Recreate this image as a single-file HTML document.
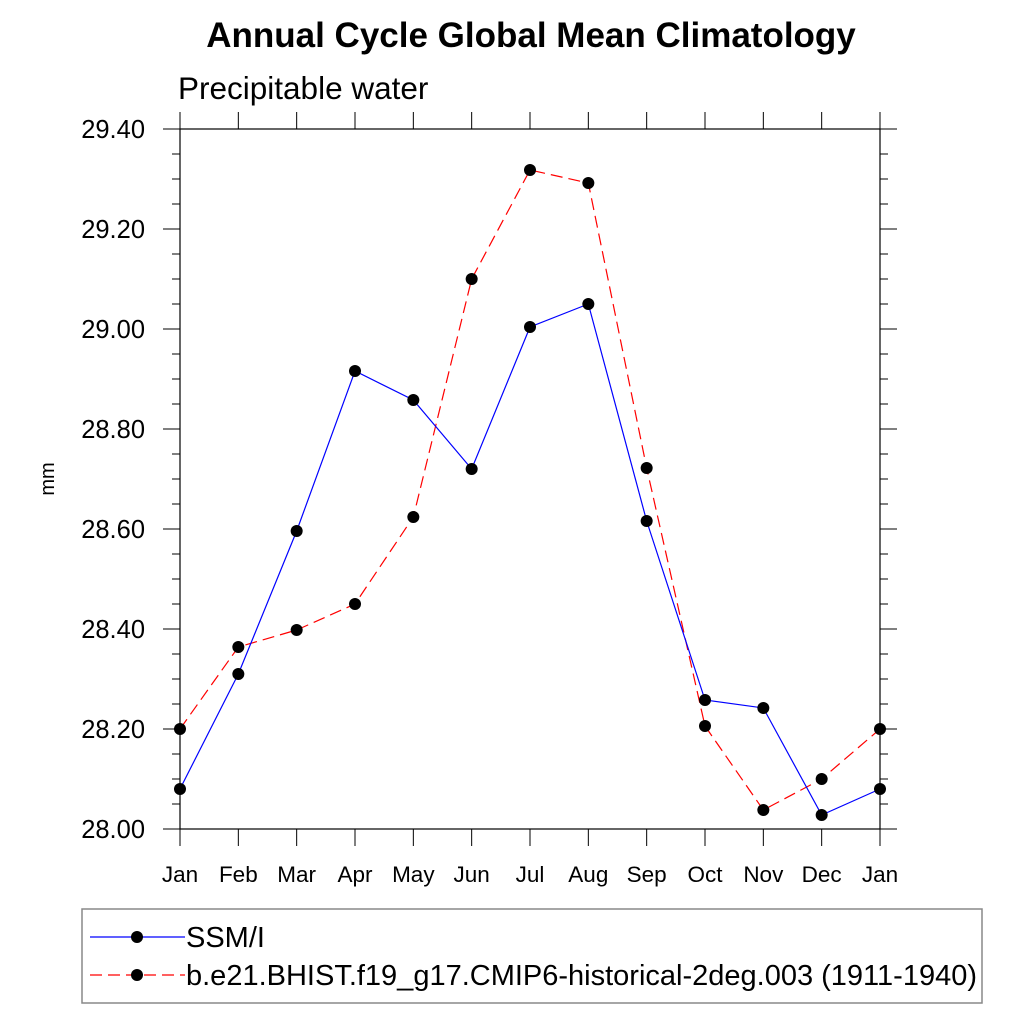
<!DOCTYPE html>
<html><head><meta charset="utf-8"><style>
body{margin:0;background:#fff;}
svg text{font-family:"Liberation Sans",sans-serif;}
</style></head><body>
<svg id="chart" width="1024" height="1024" viewBox="0 0 1024 1024">
<text x="531" y="47" font-size="35" font-weight="bold" text-anchor="middle">Annual Cycle Global Mean Climatology</text>
<text x="178" y="99" font-size="31.5">Precipitable water</text>
<text transform="translate(54,479) rotate(-90)" font-size="20" text-anchor="middle">mm</text>
<g id="axes"></g>
<g id="series"></g>
<rect x="82" y="909" width="900" height="94" fill="none" stroke="#888" stroke-width="1.5"/>
<g>
<line x1="90" y1="937" x2="185" y2="937" stroke="#00f" stroke-width="1.2"/>
<circle cx="137" cy="937" r="6" fill="#000"/>
<text x="186" y="947" font-size="29">SSM/I</text>
</g>
<g>
<line x1="90" y1="975" x2="185" y2="975" stroke="#f00" stroke-width="1.2" stroke-dasharray="12,6"/>
<circle cx="137" cy="975" r="6" fill="#000"/>
<text x="186" y="985" font-size="29">b.e21.BHIST.f19_g17.CMIP6-historical-2deg.003 (1911-1940)</text>
</g>
</svg>
<script>
const months=["Jan","Feb","Mar","Apr","May","Jun","Jul","Aug","Sep","Oct","Nov","Dec","Jan"];
const ssmi=[28.08,28.31,28.596,28.916,28.858,28.72,29.004,29.05,28.616,28.258,28.242,28.028,28.08];
const model=[28.2,28.364,28.398,28.45,28.624,29.1,29.318,29.292,28.722,28.206,28.038,28.1,28.2];
const yTicks=["28.00","28.20","28.40","28.60","28.80","29.00","29.20","29.40"];
const NS="http://www.w3.org/2000/svg";
const L=180,R=880,T=129,B=829,ymin=28.0,ymax=29.4;
function xs(i){return L+(R-L)*i/(months.length-1);}
function ys(v){return B-(v-ymin)/(ymax-ymin)*(B-T);}
function mk(tag,at,parent){const e=document.createElementNS(NS,tag);for(const k in at)e.setAttribute(k,at[k]);parent.appendChild(e);return e;}
const ax=document.getElementById('axes');
const frame=mk('rect',{x:L,y:T,width:R-L,height:B-T,fill:'none',stroke:'#000','stroke-width':1.2},ax);


months.forEach((m,i)=>{
  const x=xs(i);
  mk('line',{x1:x,y1:B,x2:x,y2:B+17,stroke:'#000','stroke-width':1},ax);
  mk('line',{x1:x,y1:T,x2:x,y2:T-17,stroke:'#000','stroke-width':1},ax);
  const t=mk('text',{x:x,y:B+53,'font-size':22.5,'text-anchor':'middle'},ax);
  t.textContent=m;
  
  
});
for(let v=ymin;v<=ymax+1e-9;v+=0.05){
  const y=ys(v);const maj=Math.abs(Math.round(v*5)-v*5)<1e-6;const len=maj?17:8;
  mk('line',{x1:L-len,y1:y,x2:L,y2:y,stroke:'#000','stroke-width':1},ax);
  mk('line',{x1:R,y1:y,x2:R+len,y2:y,stroke:'#000','stroke-width':1},ax);
}
yTicks.forEach(s=>{
  const t=mk('text',{x:L-35,y:ys(parseFloat(s))+9,'font-size':25.5,'text-anchor':'end'},ax);
  t.textContent=s;
  
  
});
const sg=document.getElementById('series');
function draw(vals,color,dash,name){
  const g=mk('g',{},sg);
  
  
  const p=mk('polyline',{points:vals.map((v,i)=>xs(i)+','+ys(v)).join(' '),fill:'none',stroke:color,'stroke-width':1.2,'stroke-dasharray':dash},g);
  
  
  vals.forEach((v,i)=>{
    const c=mk('circle',{cx:xs(i),cy:ys(v),r:6,fill:'#000'},g);
    
    
  });
}
draw(model,'#f00','12,6','series-model');
draw(ssmi,'#00f','none','series-ssmi');
</script>
</body></html>
